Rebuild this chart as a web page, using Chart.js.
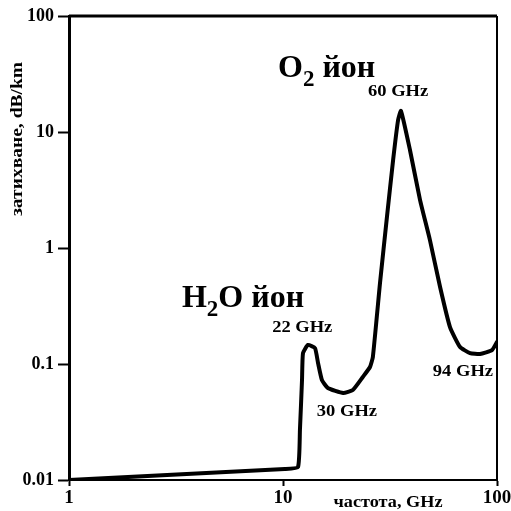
<!DOCTYPE html>
<html>
<head>
<meta charset="utf-8">
<script src="https://cdn.jsdelivr.net/npm/chart.js@4.4.1/dist/chart.umd.min.js"></script>
<style>
  html, body { margin: 0; padding: 0; background: #fff; }
  #wrap { width: 511px; height: 511px; }
</style>
</head>
<body>
<div id="wrap"><canvas id="c" width="511" height="511"></canvas></div>
<script>
// frequency (GHz) and attenuation (dB/km)
const freq = [1, 10.2, 11.75, 12.0, 12.27, 12.4, 13.08, 14.11, 14.58, 15.2, 16.2, 19.1, 21.2,
  23.6, 25.5, 26.3, 28.4, 30.6, 32.7, 34.5, 35.6, 39.2, 43.7, 48.6, 54.2, 60.3, 67.2, 74.8, 83.3, 94.8, 100];
const atten = [0.01, 0.01244, 0.01294, 0.027, 0.0728, 0.124, 0.146, 0.137, 0.102, 0.0728, 0.0621, 0.0562, 0.0597,
  0.0773, 0.0942, 0.115, 0.499, 1.85, 5.74, 12.7, 15.2, 7.0, 2.59, 1.17, 0.461, 0.208, 0.140, 0.124, 0.122, 0.132, 0.155];

const xTicks = [1, 10, 100];
const yTicks = [0.01, 0.1, 1, 10, 100];

// peak / dip labels, anchored in data space
const peakLabels = [
  { text: '60 GHz', x: 34.5, y: 22.1 },
  { text: '22 GHz', x: 12.3, y: 0.204 },
  { text: '30 GHz', x: 19.9, y: 0.0386 },
  { text: '94 GHz', x: 69.3, y: 0.0853 }
];
// ion labels: [before subscript, subscript, after]
const ionLabels = [
  { parts: ['O', '2', ' йон'], x: 9.48, y: 29.8 },
  { parts: ['H', '2', 'O йон'], x: 3.37, y: 0.31 }
];

const serif = "'Liberation Serif', 'Times New Roman', serif";

// text drawn a bit wider than the font, like the original scan
function wideText(ctx, text, x, y, sx) {
  ctx.save();
  ctx.translate(x, y);
  ctx.scale(sx, 1);
  ctx.fillText(text, 0, 0);
  ctx.restore();
}

const decor = {
  id: 'decor',
  afterDraw(chart) {
    const { ctx, chartArea: a, scales } = chart;
    ctx.save();
    // frame top + right
    ctx.strokeStyle = '#000';
    ctx.lineWidth = 3;
    ctx.beginPath();
    ctx.moveTo(a.left, a.top);
    ctx.lineTo(a.right, a.top);
    ctx.stroke();
    ctx.lineWidth = 2;
    ctx.beginPath();
    ctx.moveTo(a.right, a.top);
    ctx.lineTo(a.right, a.bottom);
    ctx.stroke();

    ctx.fillStyle = '#000';
    ctx.textAlign = 'center';
    ctx.textBaseline = 'middle';
    ctx.font = 'bold 17px ' + serif;
    peakLabels.forEach(l => {
      wideText(ctx, l.text, scales.x.getPixelForValue(l.x), scales.y.getPixelForValue(l.y), 1.09);
    });

    ctx.textAlign = 'left';
    ctx.textBaseline = 'alphabetic';
    ionLabels.forEach(l => {
      let px = scales.x.getPixelForValue(l.x);
      const py = scales.y.getPixelForValue(l.y);
      ctx.font = 'bold 32px ' + serif;
      ctx.fillText(l.parts[0], px, py);
      px += ctx.measureText(l.parts[0]).width;
      ctx.font = 'bold 23px ' + serif;
      ctx.fillText(l.parts[1], px, py + 9);
      px += ctx.measureText(l.parts[1]).width;
      ctx.font = 'bold 32px ' + serif;
      ctx.fillText(l.parts[2], px, py);
    });

    // axis titles
    ctx.font = 'bold 16px ' + serif;
    ctx.textAlign = 'center';
    ctx.textBaseline = 'middle';
    wideText(ctx, 'частота, GHz', 388, 503, 1.14);
    ctx.translate(18, 139);
    ctx.rotate(-Math.PI / 2);
    wideText(ctx, 'затихване, dB/km', 0, 0, 1.22);
    ctx.restore();
  }
};

new Chart(document.getElementById('c'), {
  type: 'line',
  data: {
    labels: freq,
    datasets: [{
      data: freq.map((f, i) => ({ x: f, y: atten[i] })),
      borderColor: '#000',
      borderWidth: 4,
      pointRadius: 0,
      tension: 0.15,
      borderJoinStyle: 'round',
      borderCapStyle: 'round',
      fill: false
    }]
  },
  options: {
    responsive: false,
    animation: false,
    layout: { padding: { left: 0, top: 16, right: 14, bottom: 0 } },
    plugins: { legend: { display: false }, tooltip: { enabled: false } },
    scales: {
      x: {
        type: 'logarithmic',
        min: 1,
        max: 100,
        afterBuildTicks: s => { s.ticks = xTicks.map(v => ({ value: v })); },
        afterFit: s => { s.height = 31; s.paddingLeft = 0; s.paddingRight = 0; },
        grid: { drawOnChartArea: false, tickLength: 6, tickWidth: 2, tickColor: '#000' },
        border: { color: '#000', width: 2 },
        ticks: {
          color: '#000',
          font: { family: serif, weight: 'bold', size: 19 },
          padding: 1,
          maxRotation: 0,
          autoSkip: false,
          callback: v => String(v)
        }
      },
      y: {
        type: 'logarithmic',
        min: 0.01,
        max: 100,
        afterBuildTicks: s => { s.ticks = yTicks.map(v => ({ value: v })); },
        afterFit: s => { s.width = 69; s.paddingTop = 0; s.paddingBottom = 0; },
        grid: { drawOnChartArea: false, tickLength: 11, tickWidth: 2, tickColor: '#000' },
        border: { color: '#000', width: 3 },
        ticks: {
          color: '#000',
          font: { family: serif, weight: 'bold', size: 18 },
          padding: 4,
          autoSkip: false,
          callback: v => String(v)
        }
      }
    }
  },
  plugins: [decor]
});
</script>
</body>
</html>
